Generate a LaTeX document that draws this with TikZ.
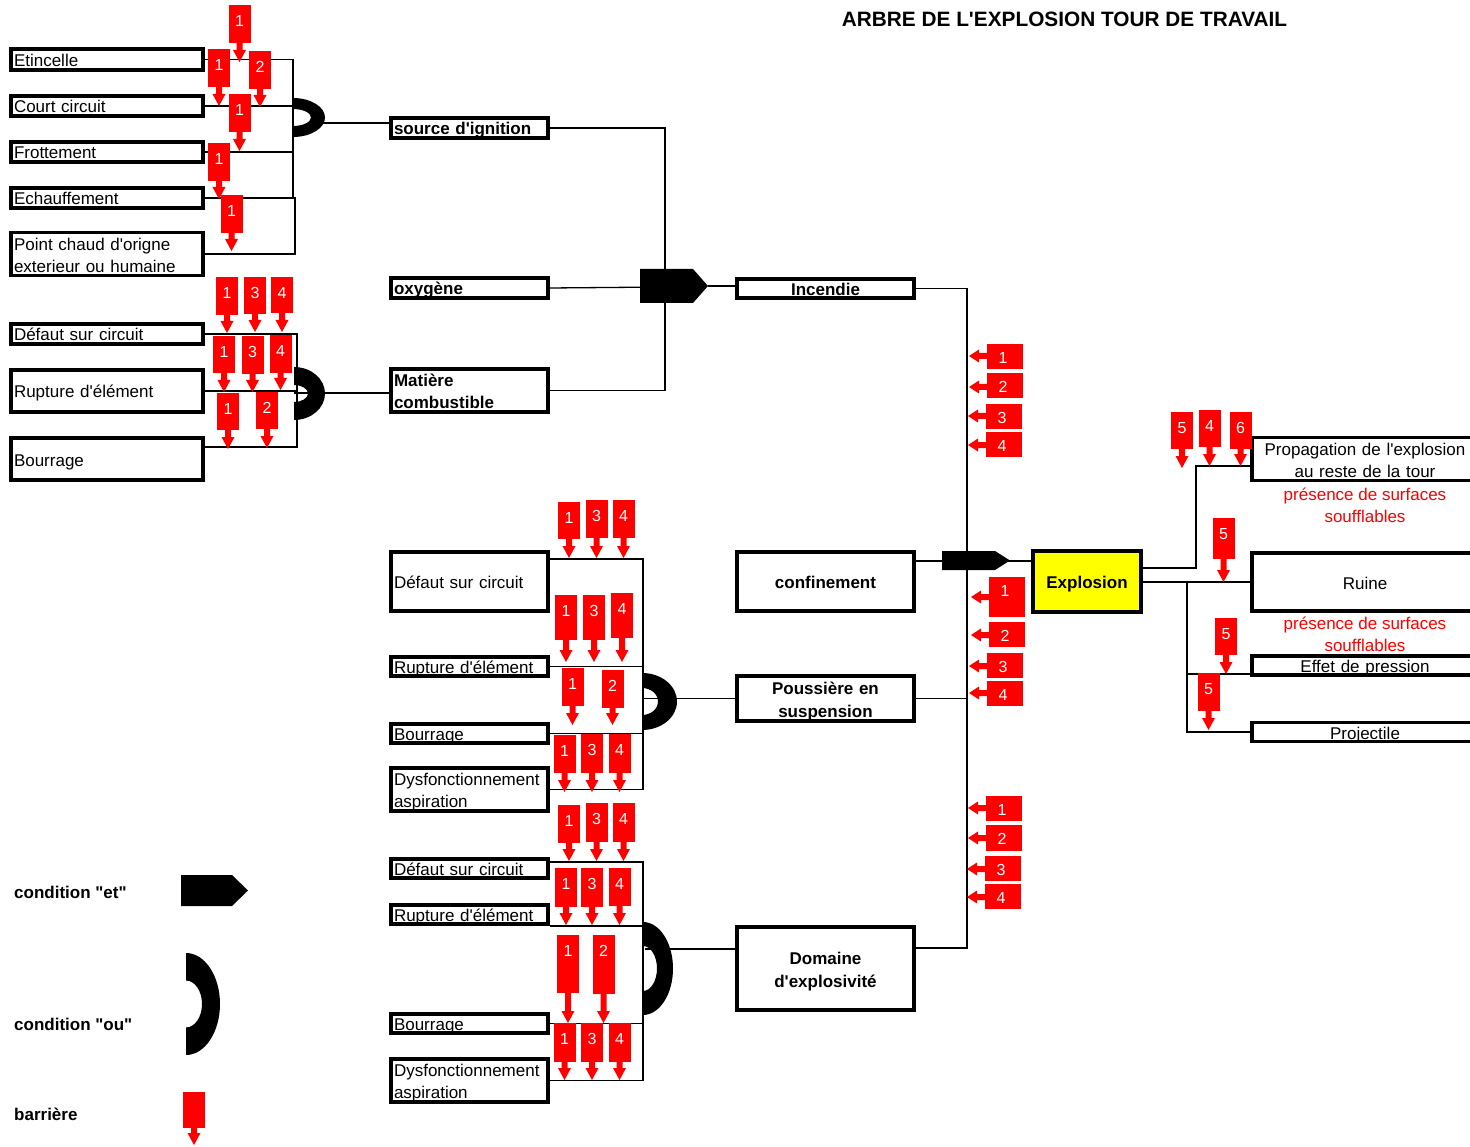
\documentclass[tikz,border=0pt]{standalone}
\usepackage{fontspec}
\setmainfont{Liberation Sans}[Ligatures=TeXOff]
\definecolor{barred}{RGB}{255,0,0}
\definecolor{evtyellow}{RGB}{255,255,0}
\newcommand{\txt}{\fontsize{17}{22}\selectfont}
\newcommand{\topstrut}{\rule{0pt}{18pt}}
\newcommand{\botstrut}{\rule[-3pt]{0pt}{3pt}}
\newcounter{barno}
% barriere vers le bas : x, haut, bas, pointe, numero
\newcommand{\bardn}[5]{%
  \fill[barred] (#1-11,#2) rectangle (#1+11,#3);
  \fill[barred] (#1-3,#3) -- (#1-3,#4-12) -- (#1-6.5,#4-12) -- (#1,#4)
    -- (#1+6.5,#4-12) -- (#1+3,#4-12) -- (#1+3,#3) -- cycle;
  \stepcounter{barno}
  \node[barnum] (bar\thebarno) at (#1,#2+16) {#5};}
% barriere vers la gauche : x gauche, haut, bas, y fleche, numero
\newcommand{\barlf}[5]{%
  \fill[barred] (#1,#2) rectangle (#1+36,#3);
  \fill[barred] (#1,#4-3) -- (#1-8,#4-3) -- (#1-8,#4-6.5) -- (#1-18,#4)
    -- (#1-8,#4+6.5) -- (#1-8,#4+3) -- (#1,#4+3) -- cycle;
  \stepcounter{barno}
  \node[barnum] (bar\thebarno) at (#1+16,#2+13.5) {#5};}
% porte "ou" : centre, rayons exterieurs, rayons interieurs
\newcommand{\orgate}[6]{%
  \begin{scope}
    \clip (#1,#2-#4-1) rectangle (#1+#3+1,#2+#4+1);
    \fill[even odd rule] (#1,#2) ellipse [x radius=#3, y radius=#4]
      (#1,#2) ellipse [x radius=#5, y radius=#6];
  \end{scope}}
% porte "et" : x gauche, haut, bas, debut pointe, pointe
\newcommand{\andgate}[5]{%
  \fill (#1,#2) -- (#4,#2) -- (#5,{(#2+#3)/2}) -- (#4,#3) -- (#1,#3) -- cycle;}

\begin{document}
\begin{tikzpicture}[x=1pt, y=-1pt,
  boxed/.style={draw, line width=3.8pt,
    execute at begin node=\topstrut, execute at end node=\botstrut},
  one/.style={text height=16.5pt, text depth=2.5pt},
  leaf/.style={boxed, inner xsep=3pt, inner ysep=0pt,
    align=left, text width=#1, font=\txt},
  leafbold/.style={leaf=#1, font=\txt\bfseries},
  event/.style={boxed, inner sep=0pt, align=center, text width=177pt,
    minimum width=177, font=\fontsize{17}{23}\selectfont\bfseries},
  conseq/.style={boxed, inner sep=0pt, align=center, text width=226pt,
    minimum width=226, font=\txt},
  link/.style={line width=1.3pt},
  legend/.style={anchor=west, inner sep=0pt, font=\txt\bfseries},
  warn/.style={text=barred, align=center, font=\txt},
  barnum/.style={text=white, inner sep=0pt, font=\fontsize{16}{16}\selectfont}]
\useasboundingbox (0,0) rectangle (1470,1147);
\clip (0,0) rectangle (1470,1147);

\node[font=\fontsize{20.8}{24}\selectfont\bfseries] (title) at (1064.5,19)
  {ARBRE DE L'EXPLOSION TOUR DE TRAVAIL};

% colonne de gauche
\node[leaf=186pt, one, minimum height=21] (etin) at (107,59.5) {Etincelle};
\node[leaf=186pt, one, minimum height=20] (court) at (107,106) {Court circuit};
\node[leaf=186pt, one, minimum height=20] (frott) at (107,152) {Frottement};
\node[leaf=186pt, one, minimum height=20] (echauf) at (107,198) {Echauffement};
\node[leaf=186pt, minimum height=42] (point) at (107,254)
  {Point chaud d'origne\\exterieur ou humaine};
\node[leaf=186pt, one, minimum height=20] (defautA) at (107,334) {Défaut sur circuit};
\node[leaf=186pt, one, minimum height=42] (ruptA) at (107,391) {Rupture d'élément};
\node[leaf=186pt, one, minimum height=42] (bourA) at (107,459) {Bourrage};

% colonne du milieu
\node[leafbold=151pt, one, minimum height=20] (source) at (469.5,128) {source d'ignition};
\node[leafbold=151pt, one, minimum height=20] (oxy) at (469.5,288) {oxygène};
\node[leafbold=151pt, minimum height=43] (matiere) at (469.5,390.5)
  {Matière\\combustible};
\node[leaf=151pt, one, minimum height=59] (defautB) at (469.5,581.5) {Défaut sur circuit};
\node[leaf=151pt, one, minimum height=19] (ruptB) at (469.5,666.5) {Rupture d'élément};
\node[leaf=151pt, one, minimum height=19] (bourB) at (469.5,733.5) {Bourrage};
\node[leaf=151pt, minimum height=41] (dysB) at (469.5,789.5)
  {Dysfonctionnement\\aspiration};
\node[leaf=151pt, one, minimum height=19] (defautC) at (469.5,868.5) {Défaut sur circuit};
\node[leaf=151pt, one, minimum height=19] (ruptC) at (469.5,914.5) {Rupture d'élément};
\node[leaf=151pt, one, minimum height=19] (bourC) at (469.5,1023.5) {Bourrage};
\node[leaf=151pt, minimum height=41] (dysC) at (469.5,1080.5)
  {Dysfonctionnement\\aspiration};

% evenements
\node[event, one, minimum height=19] (incendie) at (825.5,288.5) {Incendie};
\node[event, one, minimum height=59] (confin) at (825.5,581.5) {confinement};
\node[event, minimum height=41] (pouss) at (825.5,698.5) {Poussière en\\suspension};
\node[event, minimum height=83] (domaine) at (825.5,968.5) {Domaine\\d'explosivité};
\node[event, one, fill=evtyellow, text width=108pt, minimum width=108,
  minimum height=61] (explosion) at (1087,581.5) {Explosion};

% consequences
\node[conseq, minimum height=42] (prop) at (1365,459)
  {Propagation de l'explosion\\au reste de la tour};
\node[conseq, one, minimum height=58] (ruine) at (1365,582) {Ruine};
\node[conseq, one, minimum height=19] (effet) at (1365,665.5) {Effet de pression};
\node[conseq, one, minimum height=18] (proj) at (1365,732) {Projectile};
\node[warn] (warnA) at (1365,505.5) {présence de surfaces\\soufflables};
\node[warn] (warnB) at (1365,634) {présence de surfaces\\soufflables};

% source d'ignition
\coordinate (colA) at (293,62);
\coordinate (colAb) at (295,198);
\draw[link] (etin.east) -| (colA |- echauf.east);
\draw[link] (court.east) -- (court.east -| colA);
\draw[link] (frott.east) -- (frott.east -| colA);
\draw[link] (echauf.east) -| (colAb |- point.east) -- (point.east);
\orgate{293}{117.5}{32}{19.5}{18}{8.5}
\coordinate (orA) at (318,123);
\draw[link] (orA) -- (orA -| source.west);

% matiere combustible
\coordinate (colA2) at (297,332);
\coordinate (colA2b) at (297,447);
\draw[link] (defautA.east) -| (colA2b) -- (colA2b -| bourA.east);
\draw[link] (ruptA.east) -- (ruptA.east -| colA2);
\orgate{294}{393.5}{31}{26.5}{14}{8.5}
\coordinate (orA2) at (294,393);
\draw[link] (orA2) -- (orA2 -| matiere.west);

% incendie
\coordinate (andA) at (665,287);
\coordinate (andAtip) at (708,286);
\draw[link] (source.east) -| (andA) |- (matiere.east);
\draw[link] (oxy.east) -- (andA);
\andgate{640}{269}{303}{693}{708}
\draw[link] (andAtip) -- (andAtip -| incendie.west);

% vers l'explosion
\coordinate (spine) at (967,948);
\draw[link] (incendie.east) -| (spine) -- (spine -| domaine.east);
\draw[link] (pouss.east) -- (pouss.east -| spine);

% poussiere en suspension
\coordinate (colB) at (643,559);
\draw[link] (colB -| defautB.east) -- (colB) |- (dysB.east);
\draw[link] (ruptB.east) -- (ruptB.east -| colB);
\draw[link] (bourB.east) -- (bourB.east -| colB);
\orgate{642}{701.5}{35}{28.5}{16}{13.5}
\coordinate (orB) at (642,698.5);
\draw[link] (orB) -- (pouss.west);

% domaine d'explosivite
\coordinate (colC) at (643,862);
\coordinate (colCr) at (643,926);
\draw[link] (colC -| defautC.east) -- (colC) |- (dysC.east);
\draw[link] (colCr -| ruptC.east) -- (colCr);
\draw[link] (bourC.east) -- (bourC.east -| colC);
\orgate{643}{968.5}{30}{46.5}{14}{22.5}
\coordinate (orC) at (645,949);
\draw[link] (orC) -- (orC -| domaine.west);

% explosion
\coordinate (andB) at (976,561);
\draw[link] (andB -| confin.east) -- (andB -| explosion.west);
\andgate{942}{551}{570}{995}{1010}
\coordinate (jP) at (1196,568);
\coordinate (jR) at (1187,582);
\draw[link] (jP -| explosion.east) -- (jP) |- ([yshift=-7pt]prop.west);
\draw[link] (explosion.east |- ruine.west) -- (ruine.west);
\draw[link] (jR) |- ([yshift=-8.5pt]effet.west);
\draw[link] (jR) |- (proj.west);

% barrieres
\foreach \x/\yt/\yb/\yp/\n in {239.5/5/43/62/1, 219/49/87/106/1, 260/51/89/107/2,
    239.5/94/132/151/1, 219/143/181/199/1, 231.5/195/233/251/1,
    227/277/315/333/1, 255/277/314/332/3, 282/277/313/332/4,
    224/336/373/392/1, 252.5/336/374/392/3, 280.5/335/373/390/4,
    228/393/430/449/1, 267/392/429/448/2,
    569/502/539/558/1, 596.5/500/538/558/3, 623.5/500/538/558/4,
    566/595/640/662/1, 594/595/640/662/3, 622/593/638/662/4,
    572.5/668/706/725/1, 612.5/670/708/725/2,
    564.5/735/773/792/1, 592/734/773/792/3, 619.5/734/773/792/4,
    569/805/843/861/1, 596.5/803/842/861/3, 623.5/803/842/861/4,
    566/868/907/925/1, 592/868/907/925/3, 619.5/868/906/925/4,
    568/935/993/1023/1, 603.5/935/994/1023/2,
    564.5/1023/1062/1080/1, 592/1023/1062/1080/3, 619.5/1023/1062/1080/4,
    1182/412/449/468/5, 1209.5/410/447/466/4, 1240.5/412/449/466/6,
    1223.5/518/559/582/5, 1226/618/655/674/5, 1208.5/673/711/730/5}
  \bardn{\x}{\yt}{\yb}{\yp}{\n};
\foreach \x/\yt/\yb/\yp/\n in {987/344/369/356/1, 987/373/398/387/2,
    986/404/429/416/3, 986/432/457/445/4,
    989/577/617/597/1, 989/622/647/635/2, 987/653/678/666/3, 987/681/706/693/4,
    986/796/821/808/1, 986/825/851/838/2, 985/856/881/869/3, 985/884/909/897/4}
  \barlf{\x}{\yt}{\yb}{\yp}{\n};

% legende
\node[legend] (legEt) at (14,892) {condition "et"};
\node[legend] (legOu) at (14,1024) {condition "ou"};
\node[legend] (legBar) at (14,1114) {barrière};
\andgate{181}{875}{906}{232}{248}
\orgate{186}{1004}{34}{51}{16}{23.5}
\bardn{194}{1092}{1128}{1145}{}
\end{tikzpicture}
\end{document}
